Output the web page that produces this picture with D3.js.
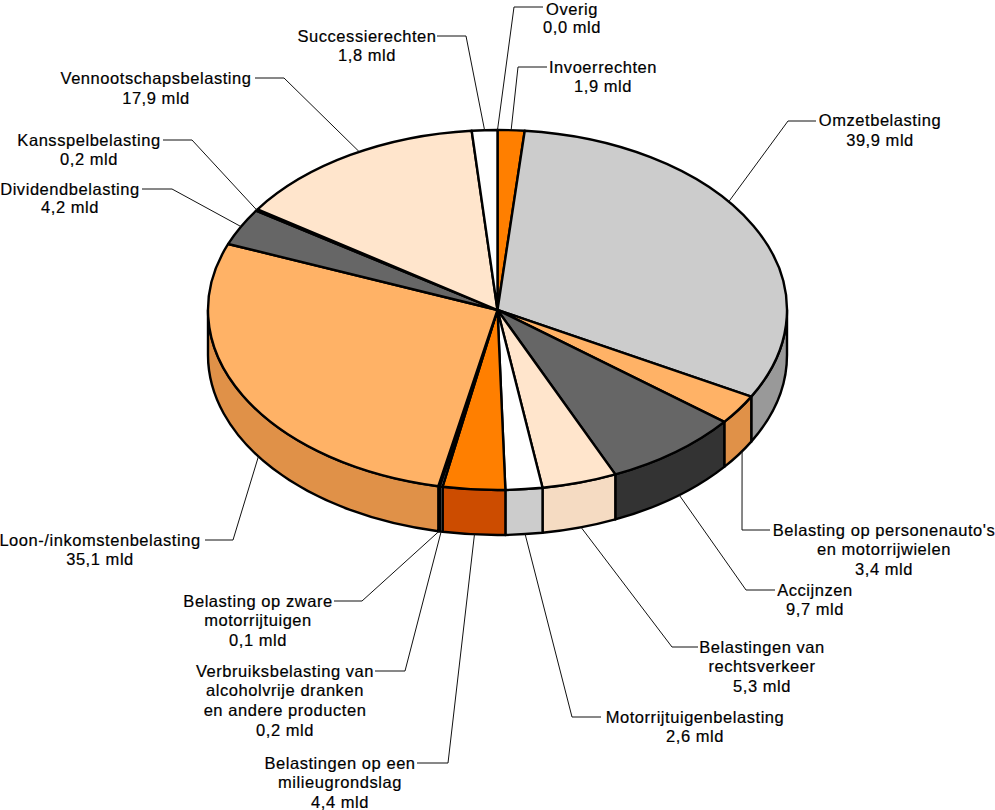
<!DOCTYPE html>
<html><head><meta charset="utf-8">
<script src="https://cdn.jsdelivr.net/npm/d3@7"></script>
<style>html,body{margin:0;padding:0;background:#fff}svg{display:block}
text{font-family:"Liberation Sans",Arial,sans-serif;font-size:16.5px;letter-spacing:.55px;fill:#000;stroke:#000;stroke-width:.2px;text-anchor:middle;dominant-baseline:central}</style>
</head><body><svg id="c" width="995" height="810"></svg>
<script>
const names=["Overig","Invoerrechten","Omzetbelasting","Belasting op personenauto's|en motorrijwielen","Accijnzen","Belastingen van|rechtsverkeer","Motorrijtuigenbelasting","Belastingen op een|milieugrondslag","Verbruiksbelasting van|alcoholvrije dranken|en andere producten","Belasting op zware|motorrijtuigen","Loon-/inkomstenbelasting","Dividendbelasting","Kansspelbelasting","Vennootschapsbelasting","Successierechten"];
const values=[0.0,1.9,39.9,3.4,9.7,5.3,2.6,4.4,0.2,0.1,35.1,4.2,0.2,17.9,1.8];
const topColors=["#ffffff","#ff7f00","#cccccc","#ffb266","#666666","#ffe5cc","#ffffff","#ff7f00","#cccccc","#ffb266","#ffb266","#666666","#000000","#ffe5cc","#ffffff"];
const sideColors=["#cccccc","#cc4c00","#999999","#e09148","#333333","#f5dbc2","#cccccc","#cc4c00","#999999","#e09148","#e09148","#333333","#000000","#f5dbc2","#cccccc"];
// leader layout: position along the slice's arc, knee, line end, label centre, first line y, line step
const leaderFrac=[0.5,0.5,0.42,0.37,0.46,0.48,0.47,0.49,0.5,0.5,0.44,0.51,0.5,0.54,0.5];
const kneeX=[514,518,788,742,746,672,572,448,405,362,233,172,192,284,466];
const kneeY=[7,67,121,530,590,647,717,763,671,601,540,189,140,78,36];
const endX=[543,547,816,770,775,698,601,417,375,334,205,142,163,255,437];
const labelX=[572,603,880,884,815,762,695,340,285,258,100,70,89,156,367];
const labelY=[9,66.5,120,529.5,589.5,646.5,716.5,762.5,670.5,600.5,539.5,189,139.5,78,35.5];
const lineStep=[17.5,19.7,19.7,19.7,19.7,19.5,19.7,19.7,19.7,19.7,19.7,18.2,19.5,19.7,19.5];

const cx=497.5,cy=310,rx=289.5,ry=180,depth=45;
const svg=d3.select("#c");
const arcs=d3.pie().sort(null).value(d=>d)(values);
const pt=(a,dz=0)=>[cx+rx*Math.sin(a),cy-ry*Math.cos(a)+dz];
const H=Math.PI/2,S=3*Math.PI/2;
const arcTo=(a0,a1,dz)=>{const p=pt(a1,dz);return `A${rx},${ry} 0 ${Math.abs(a1-a0)>Math.PI?1:0} ${a1>=a0?1:0} ${p[0]},${p[1]}`;};

// side walls
arcs.forEach((d,i)=>{
  const a0=Math.max(d.startAngle,H),a1=Math.min(d.endAngle,S);
  if(a1<=a0)return;
  const p=pt(a0),q=pt(a1,depth);
  svg.append("path").attr("d",`M${p}${arcTo(a0,a1,0)}L${q}${arcTo(a1,a0,depth)}Z`)
    .attr("fill",sideColors[i]).attr("stroke","#000").attr("stroke-width",2.4).attr("stroke-linejoin","round");
});
// top faces
arcs.forEach((d,i)=>{
  const p=pt(d.startAngle);
  svg.append("path").attr("d",`M${cx},${cy}L${p}${arcTo(d.startAngle,d.endAngle,0)}Z`)
    .attr("fill",topColors[i]).attr("stroke","#000").attr("stroke-width",2.4).attr("stroke-linejoin","round");
});
// leaders and labels
arcs.forEach((d,i)=>{
  const a=d.startAngle+(d.endAngle-d.startAngle)*leaderFrac[i];
  const s=pt(a,(a>H&&a<S)?depth:0);
  svg.append("path").attr("d",d3.line()([s,[kneeX[i],kneeY[i]],[endX[i],kneeY[i]]]))
    .attr("fill","none").attr("stroke","#111").attr("stroke-width",1);
  const lines=names[i].split("|").concat([d3.format(".1f")(values[i]).replace(".",",")+" mld"]);
  const t=svg.append("text");
  lines.forEach((l,k)=>t.append("tspan").attr("x",labelX[i]).attr("y",labelY[i]+k*lineStep[i]).text(l));
});
</script></body></html>
